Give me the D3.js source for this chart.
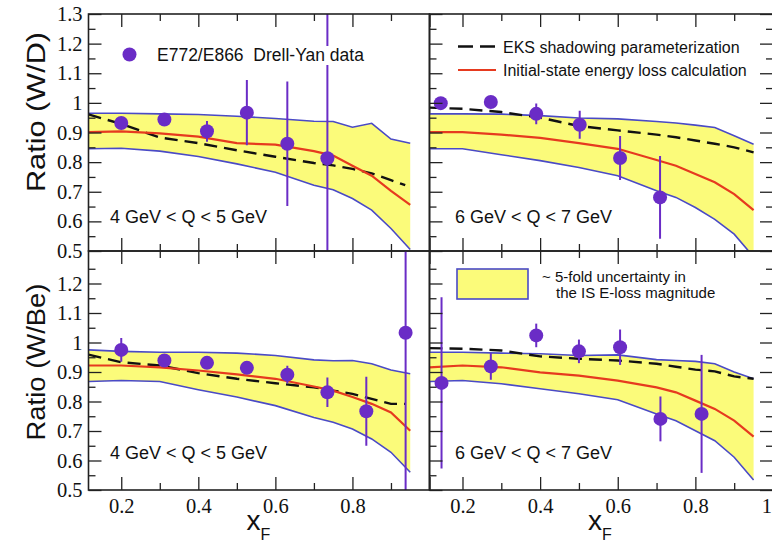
<!DOCTYPE html>
<html>
<head>
<meta charset="utf-8">
<script src="https://cdn.jsdelivr.net/npm/d3@7"></script>
<style>
  html, body { margin: 0; padding: 0; background: #fff; }
  svg { display: block; }
  .sans { font-family: "Liberation Sans", Arial, Helvetica, sans-serif; fill: #111; }
  .serif { font-family: "Liberation Serif", "Times New Roman", serif; }
</style>
</head>
<body>
<svg id="chart" width="772" height="544"></svg>
<script>
// x_F grid on which the model curves are tabulated
const xGrid = [0.115, 0.2, 0.3, 0.4, 0.5, 0.6, 0.7, 0.75, 0.8, 0.85, 0.9, 0.95];

// W/D, 4 GeV < Q < 5 GeV
const wd45BandHi = [0.965, 0.965, 0.963, 0.961, 0.955, 0.947, 0.938, 0.937, 0.918, 0.931, 0.878, 0.864];
const wd45BandLo = [0.845, 0.847, 0.837, 0.819, 0.794, 0.766, 0.722, 0.707, 0.677, 0.638, 0.576, 0.505];
const wd45Eloss  = [0.901, 0.904, 0.897, 0.886, 0.864, 0.859, 0.837, 0.822, 0.788, 0.754, 0.703, 0.656];
const wd45Eks    = [0.961, 0.929, 0.883, 0.864, 0.840, 0.818, 0.797, 0.789, 0.777, 0.762, 0.739, 0.722];
const wd45X   = [0.200, 0.312, 0.4225, 0.526, 0.631, 0.735];
const wd45R   = [0.932, 0.944, 0.904, 0.967, 0.862, 0.813];
const wd45Err = [0.012, 0.015, 0.035, 0.110, 0.210, 0.600];

// W/D, 6 GeV < Q < 7 GeV
const wd67BandHi = [0.963, 0.963, 0.962, 0.957, 0.949, 0.946, 0.937, 0.932, 0.925, 0.917, 0.889, 0.860];
const wd67BandLo = [0.845, 0.845, 0.825, 0.805, 0.782, 0.754, 0.703, 0.681, 0.647, 0.607, 0.557, 0.480];
const wd67Eloss  = [0.901, 0.901, 0.893, 0.882, 0.864, 0.845, 0.807, 0.788, 0.760, 0.732, 0.692, 0.638];
const wd67Eks    = [0.984, 0.980, 0.969, 0.950, 0.922, 0.907, 0.893, 0.884, 0.873, 0.862, 0.850, 0.833];
const wd67X   = [0.144, 0.273, 0.390, 0.502, 0.606, 0.709];
const wd67R   = [0.999, 1.003, 0.963, 0.926, 0.814, 0.681];
const wd67Err = [0.012, 0.012, 0.035, 0.047, 0.074, 0.140];

// W/Be, 4 GeV < Q < 5 GeV
const wbe45BandHi = [0.975, 0.970, 0.967, 0.967, 0.964, 0.956, 0.941, 0.938, 0.939, 0.928, 0.907, 0.894];
const wbe45BandLo = [0.868, 0.871, 0.868, 0.840, 0.815, 0.786, 0.746, 0.730, 0.707, 0.673, 0.628, 0.560];
const wbe45Eloss  = [0.922, 0.922, 0.916, 0.905, 0.892, 0.877, 0.851, 0.837, 0.815, 0.792, 0.763, 0.701];
const wbe45Eks    = [0.959, 0.933, 0.922, 0.896, 0.877, 0.862, 0.848, 0.837, 0.826, 0.809, 0.792, 0.792];
const wbe45X   = [0.200, 0.312, 0.4225, 0.526, 0.631, 0.735, 0.836, 0.938];
const wbe45R   = [0.975, 0.939, 0.931, 0.914, 0.891, 0.831, 0.767, 1.033];
const wbe45Err = [0.040, 0.020, 0.015, 0.015, 0.030, 0.050, 0.117, 0.600];

// W/Be, 6 GeV < Q < 7 GeV
const wbe67BandHi = [0.967, 0.967, 0.964, 0.962, 0.956, 0.958, 0.942, 0.939, 0.936, 0.928, 0.900, 0.877];
const wbe67BandLo = [0.868, 0.871, 0.860, 0.843, 0.826, 0.806, 0.758, 0.735, 0.701, 0.667, 0.611, 0.534];
const wbe67Eloss  = [0.916, 0.922, 0.916, 0.899, 0.888, 0.871, 0.848, 0.831, 0.803, 0.775, 0.735, 0.681];
const wbe67Eks    = [0.981, 0.979, 0.973, 0.953, 0.945, 0.939, 0.928, 0.918, 0.908, 0.902, 0.885, 0.877];
const wbe67X   = [0.146, 0.273, 0.390, 0.500, 0.606, 0.710, 0.816];
const wbe67R   = [0.863, 0.919, 1.024, 0.970, 0.984, 0.741, 0.758];
const wbe67Err = [0.290, 0.045, 0.040, 0.040, 0.060, 0.076, 0.200];

// axis ticks
const yMajor = [0.5, 0.6, 0.7, 0.8, 0.9, 1.0, 1.1, 1.2, 1.3];
const yMinor = [0.55, 0.65, 0.75, 0.85, 0.95, 1.05, 1.15, 1.25];
const xMajor = [0.2, 0.4, 0.6, 0.8, 1.0];
const xMinor = [0.3, 0.5, 0.7, 0.9];
const yLabelsTop = [0.5, 0.6, 0.7, 0.8, 0.9, 1.0, 1.1, 1.2, 1.3];
const yLabelsBottom = [0.5, 0.6, 0.7, 0.8, 0.9, 1.0, 1.1, 1.2];
const xLabelsLeft = [0.2, 0.4, 0.6, 0.8];
const xLabelsRight = [0.2, 0.4, 0.6, 0.8, 1.0];

const yTitles = ["Ratio (W/D)", "Ratio (W/Be)"];
const qLabels = ["4 GeV < Q < 5 GeV", "6 GeV < Q < 7 GeV"];
const legendData = "E772/E866\u00a0\u00a0Drell-Yan data";
const legendEks = "EKS shadowing parameterization";
const legendEloss = "Initial-state energy loss calculation";
const legendBand = ["~ 5-fold uncertainty in", "the IS E-loss magnitude"];

const C = {
  point: "#6a2cc6",
  band: "#fbfb7a",
  edge: "#4a4ac6",
  red: "#e63a1f",
  dash: "#111111",
  frame: "#222222"
};

const svg = d3.select("#chart");
svg.append("rect").attr("width", 772).attr("height", 544).attr("fill", "#fff");

const xLeft = d3.scaleLinear().domain([0.115, 1.0]).range([88.5, 429.5]);
const xRight = d3.scaleLinear().domain([0.115, 1.0]).range([429.5, 773]);
const yTop = d3.scaleLinear().domain([0.5, 1.3]).range([251, 14]);
const yBottom = d3.scaleLinear().domain([0.5, 1.3]).range([490, 254]);

const panels = [
  { id: "p0", x: xLeft, y: yTop, top: 14, bottom: 251, hi: wd45BandHi, lo: wd45BandLo, eloss: wd45Eloss, eks: wd45Eks, px: wd45X, pr: wd45R, pe: wd45Err, side: "left", row: 0, q: 0 },
  { id: "p1", x: xRight, y: yTop, top: 14, bottom: 251, hi: wd67BandHi, lo: wd67BandLo, eloss: wd67Eloss, eks: wd67Eks, px: wd67X, pr: wd67R, pe: wd67Err, side: "right", row: 0, q: 1 },
  { id: "p2", x: xLeft, y: yBottom, top: 251, bottom: 490, hi: wbe45BandHi, lo: wbe45BandLo, eloss: wbe45Eloss, eks: wbe45Eks, px: wbe45X, pr: wbe45R, pe: wbe45Err, side: "left", row: 1, q: 0 },
  { id: "p3", x: xRight, y: yBottom, top: 251, bottom: 490, hi: wbe67BandHi, lo: wbe67BandLo, eloss: wbe67Eloss, eks: wbe67Eks, px: wbe67X, pr: wbe67R, pe: wbe67Err, side: "right", row: 1, q: 1 }
];

const defs = svg.append("defs");
const fmt = v => (Math.abs(v - 1) < 1e-9 ? "1" : d3.format(".1f")(v));

panels.forEach(p => {
  const [x0, x1] = p.x.range();
  defs.append("clipPath").attr("id", "clip-" + p.id)
    .append("rect").attr("x", x0).attr("y", p.top).attr("width", x1 - x0).attr("height", p.bottom - p.top);

  const g = svg.append("g").attr("clip-path", `url(#clip-${p.id})`);

  const bandRows = xGrid.map((xv, i) => ({ x: xv, hi: p.hi[i], lo: p.lo[i] }));
  const area = d3.area().x(d => p.x(d.x)).y0(d => p.y(d.lo)).y1(d => p.y(d.hi));
  g.append("path").datum(bandRows).attr("d", area).attr("fill", C.band);

  const line = d3.line().x(d => p.x(d[0])).y(d => p.y(d[1]));
  const edgeHi = xGrid.map((xv, i) => [xv, p.hi[i]]);
  const edgeLo = xGrid.map((xv, i) => [xv, p.lo[i]]);
  [edgeHi, edgeLo].forEach(e => g.append("path").datum(e).attr("d", line)
    .attr("fill", "none").attr("stroke", C.edge).attr("stroke-width", 1.6));

  // shadowing curve stops slightly short of the band on the left panels
  const eks = xGrid.map((xv, i) => [xv, p.eks[i]]);
  const eksDrawn = p.side === "left" ? eks.slice(0, -1).concat([[0.937, p.eks[p.eks.length - 1]]]) : eks;
  g.append("path").datum(eksDrawn).attr("d", line).attr("fill", "none")
    .attr("stroke", C.dash).attr("stroke-width", 2.4).attr("stroke-dasharray", "13,7");

  const eloss = xGrid.map((xv, i) => [xv, p.eloss[i]]);
  g.append("path").datum(eloss).attr("d", line).attr("fill", "none")
    .attr("stroke", C.red).attr("stroke-width", 2.2);

  const pts = p.px.map((xv, i) => ({ x: xv, r: p.pr[i], e: p.pe[i] }));
  g.selectAll(".eb").data(pts).join("line")
    .attr("x1", d => p.x(d.x)).attr("x2", d => p.x(d.x))
    .attr("y1", d => p.y(d.r - d.e)).attr("y2", d => p.y(d.r + d.e))
    .attr("stroke", C.point).attr("stroke-width", 2);
  g.selectAll(".pt").data(pts).join("circle")
    .attr("cx", d => p.x(d.x)).attr("cy", d => p.y(d.r)).attr("r", 7)
    .attr("fill", C.point);

  // ticks point inward on every drawn side
  const addAxis = (axis, tx, ty, major, minor, labels, cls) => {
    const gMaj = svg.append("g").attr("transform", `translate(${tx},${ty})`)
      .call(axis.tickValues(major).tickSize(-13).tickPadding(labels ? (cls === "y" ? 6 : 8) : 0)
        .tickFormat(d => (labels && labels.some(l => Math.abs(l - d) < 1e-9)) ? fmt(d) : ""));
    const gMin = svg.append("g").attr("transform", `translate(${tx},${ty})`)
      .call(axis.tickValues(minor).tickSize(-7).tickFormat(""));
    [gMaj, gMin].forEach(a => {
      a.select(".domain").remove();
      a.selectAll(".tick line").attr("stroke", C.frame).attr("stroke-width", 1.3);
      a.selectAll(".tick text").attr("class", "serif").attr("font-size", 20.5).attr("fill", "#111");
    });
    return gMaj;
  };
  const yLabs = p.row === 0 ? yLabelsTop : yLabelsBottom;
  const xLabs = p.row === 1 ? (p.side === "left" ? xLabelsLeft : xLabelsRight) : null;
  const yMaj = p.row === 0 ? yMajor : yMajor.filter(v => v < 1.3);
  addAxis(d3.axisLeft(p.y), x0, 0, yMaj, yMinor, p.side === "left" ? yLabs : null, "y");
  if (p.side === "right") addAxis(d3.axisRight(p.y), x1, 0, yMaj, yMinor, null, "y");
  const xAx = addAxis(d3.axisBottom(p.x), 0, p.bottom, xMajor, xMinor, xLabs, "x");
  // the label at the figure's right edge is pulled in so it stays on the page
  if (xLabs && p.side === "right") {
    xAx.selectAll(".tick").filter(d => Math.abs(d - 1) < 1e-9).select("text")
      .attr("text-anchor", "end").attr("x", -1.5);
  }
  addAxis(d3.axisTop(p.x), 0, p.top, xMajor, xMinor, null, "x");

  svg.append("rect").attr("x", x0).attr("y", p.top).attr("width", x1 - x0).attr("height", p.bottom - p.top)
    .attr("fill", "none").attr("stroke", C.frame).attr("stroke-width", 1.6);

  svg.append("text").attr("class", "sans").attr("font-size", 18)
    .attr("x", p.side === "left" ? x0 + 21.5 : x0 + 25.5)
    .attr("y", p.row === 0 ? 223 : 459)
    .text(qLabels[p.q]);
});

// y titles
[[yTitles[0], 112, 160], [yTitles[1], 362, 157]].forEach(([t, cy, len]) => {
  svg.append("text").attr("class", "sans").attr("font-size", 25)
    .attr("text-anchor", "middle")
    .attr("transform", `translate(45,${cy}) rotate(-90)`)
    .attr("textLength", len).attr("lengthAdjust", "spacingAndGlyphs")
    .text(t);
});

// x titles
[246.5, 588].forEach(xp => {
  const t = svg.append("text").attr("class", "sans").attr("x", xp).attr("y", 529.5).attr("font-size", 28);
  t.append("tspan").text("x");
  t.append("tspan").attr("dy", 10).attr("font-size", 16).text("F");
});

// legend: data points
svg.append("rect").attr("x", 155).attr("y", 46).attr("width", 212).attr("height", 19).attr("fill", "#fff");
svg.append("circle").attr("cx", 129.5).attr("cy", 54.5).attr("r", 7).attr("fill", C.point);
svg.append("text").attr("class", "sans").attr("font-size", 17.5).attr("x", 157).attr("y", 61).text(legendData);

// legend: model curves
svg.append("line").attr("x1", 458).attr("x2", 496).attr("y1", 46.5).attr("y2", 46.5)
  .attr("stroke", C.dash).attr("stroke-width", 2.4).attr("stroke-dasharray", "15,7");
svg.append("text").attr("class", "sans").attr("font-size", 16).attr("x", 503).attr("y", 52.5).text(legendEks);
svg.append("line").attr("x1", 458).attr("x2", 496).attr("y1", 70).attr("y2", 70)
  .attr("stroke", C.red).attr("stroke-width", 2.2);
svg.append("text").attr("class", "sans").attr("font-size", 16).attr("x", 503).attr("y", 76).text(legendEloss);

// legend: uncertainty band
svg.append("rect").attr("x", 457).attr("y", 269).attr("width", 71).attr("height", 30)
  .attr("fill", C.band).attr("stroke", C.edge).attr("stroke-width", 1.6);
svg.append("text").attr("class", "sans").attr("font-size", 15).attr("x", 542).attr("y", 281.5).text(legendBand[0]);
svg.append("text").attr("class", "sans").attr("font-size", 15).attr("x", 556).attr("y", 298).text(legendBand[1]);
</script>
</body>
</html>
